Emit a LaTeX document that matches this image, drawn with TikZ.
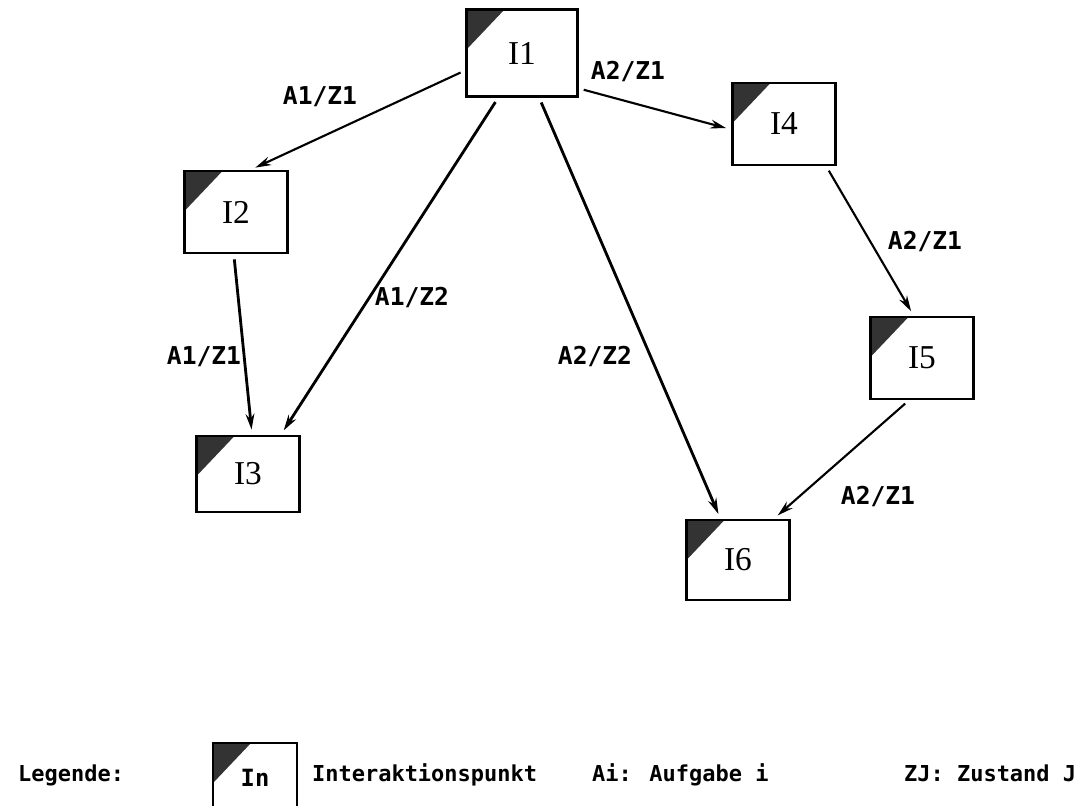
\documentclass[tikz,border=0pt]{standalone}
\usepackage{fontspec}
\setmainfont{Liberation Serif}
\newfontfamily\labelfont{DejaVu Sans Mono}
\usetikzlibrary{arrows.meta}
\tikzset{
  ipunkt/.style={draw,line width=1.3pt,fill=white,inner sep=0pt,
    minimum width=2.06cm,minimum height=1.64cm,
    font=\fontsize{19}{22}\selectfont,
    path picture={\fill[black!80]
      (path picture bounding box.north west) -- ++(0.76cm,0)
      -- ++(-0.76cm,-0.8cm) -- cycle;}},
  flow/.style={-{Stealth[length=9pt,width=5pt]},line width=1.2pt,
    shorten <=3pt,shorten >=3pt},
  elabel/.style={font=\labelfont\bfseries\fontsize{14}{16}\selectfont},
  legtext/.style={font=\labelfont\bfseries\fontsize{12.5}{14}\selectfont,anchor=base west}
}
\begin{document}
\begin{tikzpicture}[x=0.02cm,y=-0.02cm]
  \useasboundingbox (0,0) rectangle (1081,805);

  % Interaktionspunkte
  \node[ipunkt,minimum width=2.22cm,minimum height=1.74cm] (I1) at (522,53) {I1};
  \node[ipunkt] (I2) at (236,212) {I2};
  \node[ipunkt,minimum height=1.52cm] (I3) at (248,474) {I3};
  \node[ipunkt] (I4) at (784,124) {I4};
  \node[ipunkt] (I5) at (922,358) {I5};
  \node[ipunkt,minimum height=1.6cm] (I6) at (738,560) {I6};

  % Uebergaenge
  \draw[flow] (I1.197) -- (I2.71);
  \draw[flow,line width=1.6pt] (I1.242) -- (I3.50);
  \draw[flow,line width=1.6pt] (I2.267) -- (I3.84);
  \draw[flow,line width=1.6pt] (I1.291) -- (I6.113);
  \draw[flow] (I1.328) -- (I4.186);
  \draw[flow] (I4.315) -- (I5.101);
  \draw[flow] (I5.253) -- (I6.49);

  \node[elabel] (l12) at (320,97) {A1/Z1};
  \node[elabel] (l13) at (412,298) {A1/Z2};
  \node[elabel] (l23) at (204,357) {A1/Z1};
  \node[elabel] (l16) at (595,357) {A2/Z2};
  \node[elabel] (l14) at (628,72) {A2/Z1};
  \node[elabel] (l45) at (925,242) {A2/Z1};
  \node[elabel] (l56) at (878,497) {A2/Z1};

  % Legende
  \node[legtext] (leg) at (12,781) {Legende:};
  \node[ipunkt,minimum width=1.68cm,minimum height=1.4cm,
    font=\labelfont\bfseries\fontsize{13.5}{15}\selectfont] (legbox) at (255,778) {In};
  \node[legtext] (legi) at (306,781) {Interaktionspunkt};
  \node[legtext] (lega) at (586,781) {Ai: Aufgabe i};
  \node[legtext] (legz) at (898,781) {ZJ: Zustand J};
\end{tikzpicture}
\end{document}
